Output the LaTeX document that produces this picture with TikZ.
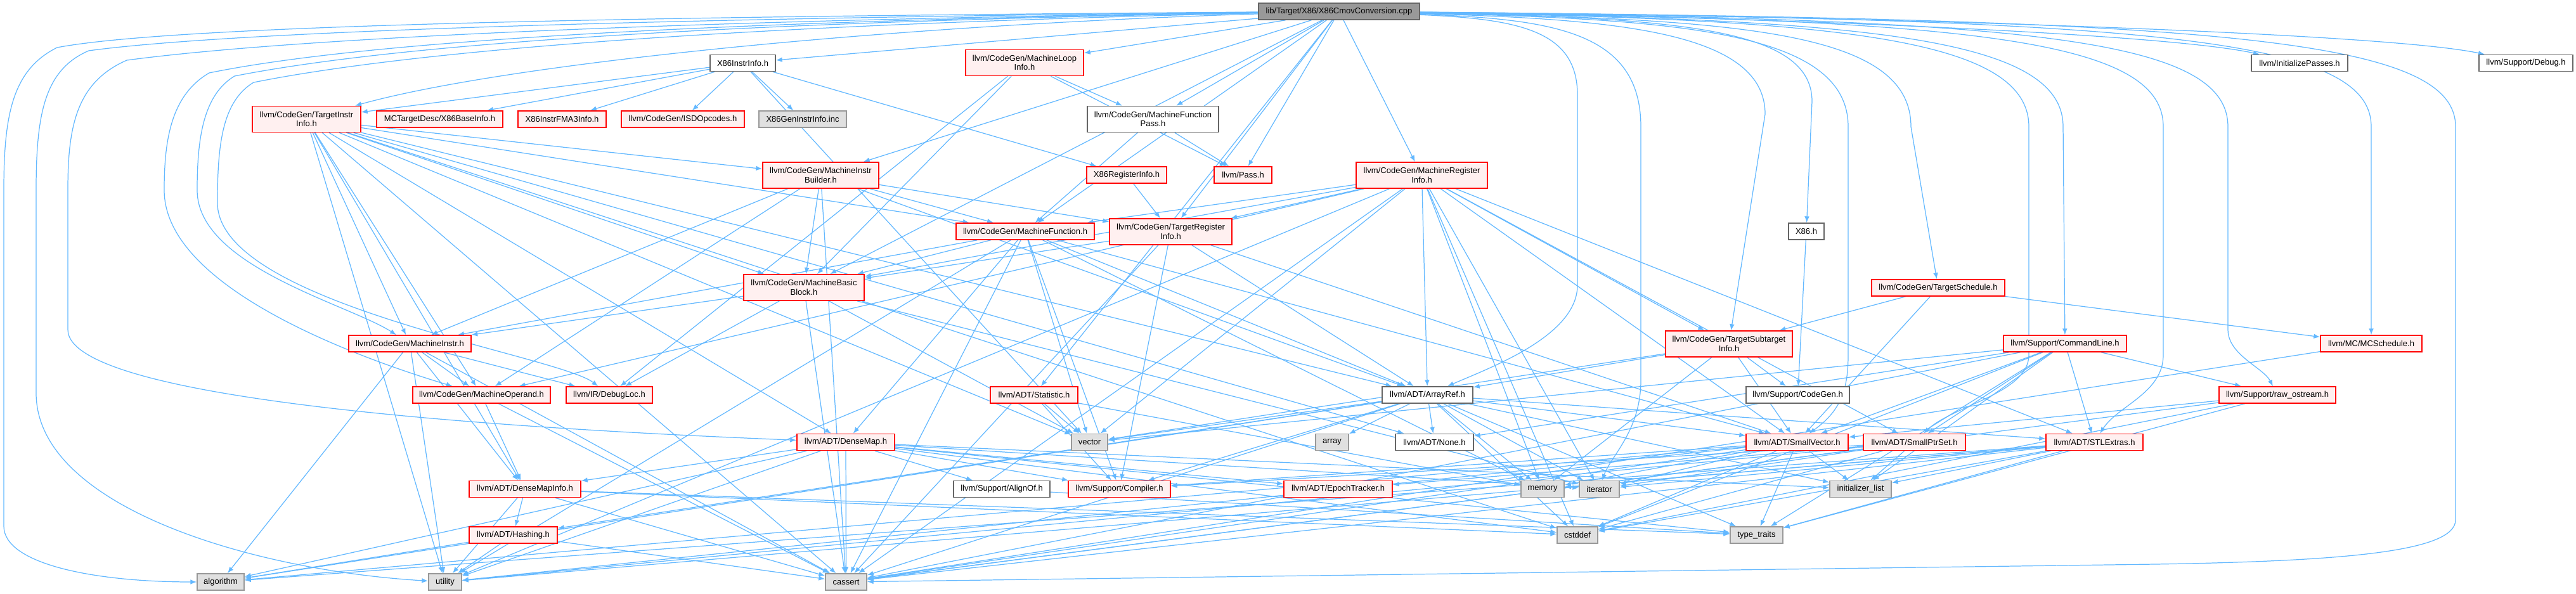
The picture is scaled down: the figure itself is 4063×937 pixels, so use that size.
\documentclass[tikz,border=0pt]{standalone}
\usepackage{fontspec}
\setmainfont{Liberation Sans}
\usepackage{tikz}
\usetikzlibrary{arrows.meta}

\definecolor{edgeblue}{HTML}{63B8FF}
\definecolor{hdrred}{HTML}{FF0000}
\definecolor{hdrfill}{HTML}{FFF0F0}
\definecolor{docgray}{HTML}{666666}
\definecolor{sysgray}{HTML}{999999}
\definecolor{sysfill}{HTML}{E0E0E0}
\definecolor{rootfill}{HTML}{999999}

\pgfdeclarelayer{bg}
\pgfsetlayers{bg,main}

\tikzset{
  edge/.style={draw=edgeblue, line width=0.35pt, -{Latex[length=2.8pt,width=2.2pt]}},
  box/.style={rectangle, line width=0.45pt, inner sep=0pt, minimum height=0.26cm,
    font=\fontsize{3.7}{4.1}\selectfont},
  hdr/.style={box, draw=hdrred, fill=hdrfill},
  doc/.style={box, draw=docgray, fill=white},
  sys/.style={box, draw=sysgray, fill=sysfill},
  top/.style={box, draw=docgray, fill=rootfill},
  two/.style={minimum height=0.41cm, align=center}
}

\begin{document}
\begin{tikzpicture}[x=0.01cm, y=-0.01cm]
  \useasboundingbox (0,0) rectangle (4063,937);
  % files
  \node[top, minimum width=2.54cm] (root) at (2112,18) {lib/Target/X86/X86CmovConversion.cpp};
  \node[doc, minimum width=1.03cm] (x86ii) at (1171.5,99.5) {X86InstrInfo.h};
  \node[hdr, two, minimum width=1.86cm] (mli) at (1616,99) {llvm/CodeGen/MachineLoop\\Info.h};
  \node[doc, minimum width=1.52cm] (initp) at (3627,99.5) {llvm/InitializePasses.h};
  \node[doc, minimum width=1.48cm] (debug) at (3984,99.5) {llvm/Support/Debug.h};
  \node[hdr, two, minimum width=1.71cm] (tii) at (483.5,188) {llvm/CodeGen/TargetInstr\\Info.h};
  \node[hdr, minimum width=1.99cm] (x86bi) at (693.5,188) {MCTargetDesc/X86BaseInfo.h};
  \node[hdr, minimum width=1.39cm] (fma3) at (886.5,188) {X86InstrFMA3Info.h};
  \node[hdr, minimum width=1.94cm] (isd) at (1077,188) {llvm/CodeGen/ISDOpcodes.h};
  \node[sys, minimum width=1.38cm] (geninc) at (1266,188) {X86GenInstrInfo.inc};
  \node[doc, two, minimum width=2.07cm] (mfp) at (1818.5,188) {llvm/CodeGen/MachineFunction\\Pass.h};
  \node[hdr, minimum width=0.91cm] (pass) at (1960.5,276) {llvm/Pass.h};
  \node[hdr, minimum width=1.26cm] (x86ri) at (1777,276) {X86RegisterInfo.h};
  \node[hdr, two, minimum width=1.83cm] (mib) at (1294.5,276.5) {llvm/CodeGen/MachineInstr\\Builder.h};
  \node[hdr, two, minimum width=2.07cm] (mri) at (2242.5,276.5) {llvm/CodeGen/MachineRegister\\Info.h};
  \node[doc, minimum width=0.56cm] (x86h) at (2849,365) {X86.h};
  \node[hdr, minimum width=2.18cm] (mf) at (1617,365) {llvm/CodeGen/MachineFunction.h};
  \node[hdr, two, minimum width=1.93cm] (tri) at (1846.5,365.5) {llvm/CodeGen/TargetRegister\\Info.h};
  \node[hdr, minimum width=2.10cm] (tsched) at (3057,454) {llvm/CodeGen/TargetSchedule.h};
  \node[hdr, two, minimum width=1.90cm] (mbb) at (1268,453.5) {llvm/CodeGen/MachineBasic\\Block.h};
  \node[hdr, minimum width=1.93cm] (mi) at (646.5,542) {llvm/CodeGen/MachineInstr.h};
  \node[hdr, two, minimum width=2.00cm] (tsi) at (2727,542.5) {llvm/CodeGen/TargetSubtarget\\Info.h};
  \node[hdr, minimum width=1.94cm] (cl) at (3257,542) {llvm/Support/CommandLine.h};
  \node[hdr, minimum width=1.60cm] (mcs) at (3740,542) {llvm/MC/MCSchedule.h};
  \node[hdr, minimum width=2.17cm] (mo) at (759.5,623) {llvm/CodeGen/MachineOperand.h};
  \node[hdr, minimum width=1.36cm] (dl) at (961,623) {llvm/IR/DebugLoc.h};
  \node[hdr, minimum width=1.38cm] (stat) at (1631,623) {llvm/ADT/Statistic.h};
  \node[doc, minimum width=1.43cm] (ar) at (2251.5,623) {llvm/ADT/ArrayRef.h};
  \node[doc, minimum width=1.63cm] (cg) at (2835.5,623) {llvm/Support/CodeGen.h};
  \node[hdr, minimum width=1.84cm] (raw) at (3592,623) {llvm/Support/raw\_ostream.h};
  \node[hdr, minimum width=1.54cm] (dm) at (1334,697.5) {llvm/ADT/DenseMap.h};
  \node[sys, minimum width=0.57cm] (vec) at (1718.5,697.5) {vector};
  \node[sys, minimum width=0.52cm] (arr) at (2101,697.5) {array};
  \node[doc, minimum width=1.23cm] (none) at (2262.5,697.5) {llvm/ADT/None.h};
  \node[hdr, minimum width=1.61cm] (sv) at (2834.5,697.5) {llvm/ADT/SmallVector.h};
  \node[hdr, minimum width=1.61cm] (sps) at (3019.5,697.5) {llvm/ADT/SmallPtrSet.h};
  \node[hdr, minimum width=1.53cm] (stl) at (3303.5,697.5) {llvm/ADT/STLExtras.h};
  \node[hdr, minimum width=1.76cm] (dmi) at (828,771.5) {llvm/ADT/DenseMapInfo.h};
  \node[doc, minimum width=1.52cm] (align) at (1580,771.5) {llvm/Support/AlignOf.h};
  \node[hdr, minimum width=1.61cm] (comp) at (1765.5,771.5) {llvm/Support/Compiler.h};
  \node[hdr, minimum width=1.71cm] (epoch) at (2110.5,771.5) {llvm/ADT/EpochTracker.h};
  \node[sys, minimum width=0.68cm] (mem) at (2433,771.5) {memory};
  \node[sys, minimum width=0.63cm] (iter) at (2522.5,771.5) {iterator};
  \node[sys, minimum width=0.97cm] (il) at (2934.5,771.5) {initializer\_list};
  \node[hdr, minimum width=1.39cm] (hash) at (809.5,844) {llvm/ADT/Hashing.h};
  \node[sys, minimum width=0.64cm] (cstd) at (2488,844) {cstddef};
  \node[sys, minimum width=0.83cm] (tt) at (2770.5,844) {type\_traits};
  \node[sys, minimum width=0.74cm] (alg) at (348,918) {algorithm};
  \node[sys, minimum width=0.52cm] (util) at (702,918) {utility};
  \node[sys, minimum width=0.65cm] (cas) at (1334.5,918) {cassert};

  \begin{pgfonlayer}{bg}
    % includes of the .cpp file
    \foreach \t in {x86ii, mli, mfp, pass, mri, tri, mf, mib, mbb, stat}
      \draw[edge] (root) -- (\t);
    \draw[edge] (root) .. controls (2700,25) and (3400,50) .. (initp);
    \draw[edge] (root) .. controls (2900,25) and (3750,50) .. (debug);
    \draw[edge] (root) .. controls (2650,28) and (2858,45) .. (2858,160) -- (x86h);
    \draw[edge] (root) .. controls (2550,30) and (2784,50) .. (2784,180) -- (tsi);
    \draw[edge] (root) .. controls (2750,30) and (3014,50) .. (3014,200) -- (tsched);
    \draw[edge] (root) .. controls (2900,30) and (3200,60) .. (3200,200) -- (3200,560) .. controls (3200,620) and (3080,640) .. (sps);
    \draw[edge] (root) .. controls (2950,30) and (3254,60) .. (3254,200) -- (cl);
    \draw[edge] (root) .. controls (3100,30) and (3412,60) .. (3412,200) -- (3412,560) .. controls (3412,620) and (3340,640) .. (stl);
    \draw[edge] (root) .. controls (3200,30) and (3514,60) .. (3514,200) -- (3514,520) .. controls (3514,560) and (3570,580) .. (raw);
    \draw[edge] (root) .. controls (3400,30) and (3740,60) .. (3740,200) -- (mcs);
    \draw[edge] (root) .. controls (3500,30) and (3873,60) .. (3873,200) -- (3873,820) .. controls (3873,870) and (3700,885) .. (3400,890) -- (cas);
    \draw[edge] (root) .. controls (2650,30) and (2915,50) .. (2915,200) -- (2915,560) .. controls (2915,620) and (2900,650) .. (sv);
    \draw[edge] (root) .. controls (2450,30) and (2588,50) .. (2588,200) -- (2588,600) .. controls (2588,680) and (2540,720) .. (iter);
    \draw[edge] (root) .. controls (2400,30) and (2488,50) .. (2488,150) -- (2488,450) .. controls (2488,530) and (2350,580) .. (ar);
    \draw[edge] (root) .. controls (1400,40) and (800,100) .. (tii);
    \draw[edge] (root) .. controls (1200,25) and (300,35) .. (90,75) .. controls (20,110) and (6,180) .. (6,300) -- (6,830) .. controls (6,890) and (150,918) .. (alg);
    \draw[edge] (root) .. controls (1200,27) and (400,45) .. (140,80) .. controls (70,110) and (57,180) .. (57,300) -- (57,620) .. controls (57,800) and (400,900) .. (util);
    \draw[edge] (root) .. controls (1200,30) and (500,55) .. (200,95) .. controls (120,130) and (107,200) .. (107,300) -- (107,520) .. controls (107,640) and (900,680) .. (dm);
    \draw[edge] (root) .. controls (1200,32) and (600,60) .. (330,115) .. controls (270,150) and (259,220) .. (259,300) .. controls (259,450) and (550,560) .. (mo);
    \draw[edge] (root) .. controls (1200,34) and (650,65) .. (370,120) .. controls (320,150) and (311,220) .. (311,300) .. controls (311,420) and (550,480) .. (mi);
    \draw[edge] (root) .. controls (1300,36) and (700,70) .. (400,130) .. controls (350,160) and (343,230) .. (343,320) .. controls (343,480) and (880,560) .. (dl);
    % includes of the headers
    \foreach \s/\t in {x86ii/tii, x86ii/x86bi, x86ii/fma3, x86ii/isd, x86ii/geninc, x86ii/x86ri, x86ii/vec,
      mli/mbb, mli/dl, mli/mfp, mli/pass, mfp/mf, mfp/pass, x86ri/tri,
      tii/ar, tii/dm, tii/dmi, tii/none, tii/mbb, tii/mf, tii/mi, tii/mib, tii/mo, tii/cas, tii/cstd, tii/util, tii/vec,
      mib/ar, mib/mbb, mib/mf, mib/mi, mib/mo, mib/tri, mib/cas,
      mri/ar, mri/stl, mri/sps, mri/sv, mri/mbb, mri/mf, mri/mo, mri/tri, mri/tsi, mri/cas, mri/cstd, mri/iter, mri/mem, mri/util, mri/vec,
      mf/ar, mf/dm, mf/sv, mf/mbb, mf/mi, mf/comp, mf/cas, mf/mem, mf/util, mf/vec,
      tri/ar, tri/sv, tri/mbb, tri/comp, tri/cas,
      mbb/mi, mbb/dl, mbb/cas, mbb/iter, mbb/vec,
      mi/dmi, mi/mo, mi/dl, mi/alg, mi/cas, mi/util,
      mo/dmi, mo/cas, stat/comp, stat/vec, stat/mem,
      tsi/ar, tsi/sv, tsi/cg, tsi/mem, tsi/vec,
      tsched/sv, tsched/tsi, tsched/mcs, mcs/cas, x86h/cg,
      cl/none, cl/stl, cl/sps, cl/sv, cl/raw, cl/cas, cl/cstd, cl/il, cl/tt, cl/vec,
      raw/sv, raw/cas, raw/cstd, raw/tt,
      ar/hash, ar/none, ar/sv, ar/stl, ar/comp, ar/alg, ar/arr, ar/cas, ar/cstd, ar/il, ar/iter, ar/mem, ar/tt, ar/vec,
      dm/dmi, dm/epoch, dm/align, dm/comp, dm/alg, dm/cas, dm/cstd, dm/il, dm/iter, dm/tt, dm/util,
      dmi/hash, dmi/cas, dmi/cstd, dmi/tt, dmi/util, hash/alg, hash/cas, hash/util,
      sv/comp, sv/alg, sv/cas, sv/cstd, sv/il, sv/iter, sv/mem, sv/tt, sv/util,
      sps/epoch, sps/comp, sps/cas, sps/cstd, sps/il, sps/iter, sps/util,
      stl/alg, stl/cas, stl/cstd, stl/il, stl/iter, stl/mem, stl/tt, stl/util, align/tt}
      \draw[edge] (\s) -- (\t);
  \end{pgfonlayer}
\end{tikzpicture}
\end{document}
